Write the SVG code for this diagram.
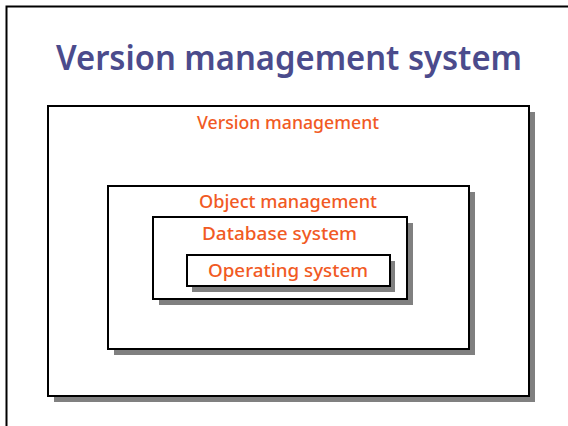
<svg xmlns="http://www.w3.org/2000/svg" width="568" height="426" viewBox="0 0 568 426">
<style>
.shadow{fill:#808080;stroke:none}
.box{fill:#ffffff;stroke:#000000;stroke-width:2}
.lbl{font-family:"Comic Sans MS","Noto Sans",sans-serif;font-size:18px;font-weight:500;fill:#f15a24}
.title{font-family:"Comic Sans MS","Noto Sans",sans-serif;font-size:35px;font-weight:600;fill:#4b4b8c}
</style>
<rect x="0" y="0" width="568" height="426" fill="#ffffff"/>
<path d="M6.5 426 V6.5 H568" fill="none" stroke="#000" stroke-width="2"/>
<text class="title" x="56" y="70" textLength="466" lengthAdjust="spacingAndGlyphs">Version management system</text>
<g id="version-management">
<rect class="shadow" x="54" y="112" width="481" height="290"/>
<rect class="box" x="48" y="106" width="481" height="290"/>
<text class="lbl" x="197" y="129" textLength="182" lengthAdjust="spacingAndGlyphs">Version management</text>
</g>
<g id="object-management">
<rect class="shadow" x="114" y="192" width="361" height="163"/>
<rect class="box" x="108" y="186" width="361" height="163"/>
<text class="lbl" x="199" y="208" textLength="178" lengthAdjust="spacingAndGlyphs">Object management</text>
</g>
<g id="database-system">
<rect class="shadow" x="159" y="223" width="254" height="82"/>
<rect class="box" x="153" y="217" width="254" height="82"/>
<text class="lbl" x="202" y="240" textLength="155" lengthAdjust="spacingAndGlyphs">Database system</text>
</g>
<g id="operating-system">
<rect class="shadow" x="192" y="261" width="203" height="31"/>
<rect class="box" x="187" y="255" width="203" height="31"/>
<text class="lbl" x="208" y="277" textLength="160" lengthAdjust="spacingAndGlyphs">Operating system</text>
</g>
<g id="connectors"/>
</svg>
